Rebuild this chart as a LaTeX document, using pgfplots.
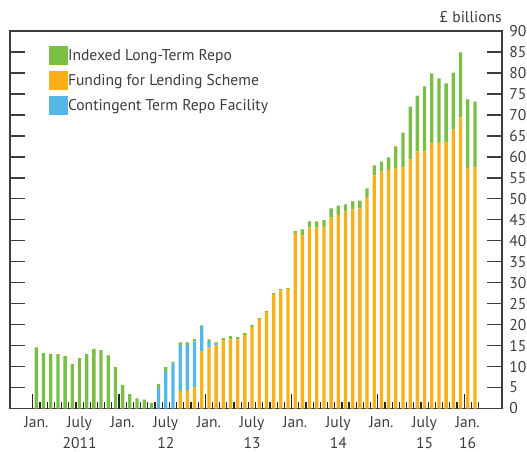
\documentclass[border=0pt]{standalone}
\usepackage{fontspec}
\setmainfont{PT Sans}
\usepackage{pgfplots}
\pgfplotsset{compat=1.18}
\usepackage{pgfplotstable}
\definecolor{iltr}{RGB}{122,190,68}
\definecolor{fls}{RGB}{252,175,23}
\definecolor{ctrf}{RGB}{85,183,232}
\definecolor{txt}{RGB}{60,60,60}

\pgfplotstableread{
m fls ctrf iltr
0 0 0 14.6
1 0 0 13.2
2 0 0 13.0
3 0 0 13.0
4 0 0 12.5
5 0 0 10.6
6 0 0 12.0
7 0 0 13.0
8 0 0 14.2
9 0 0 13.9
10 0 0 12.7
11 0 0 9.9
12 0 0 5.6
13 0 0 3.45
14 0 0 2.4
15 0 0 2.1
16 0 0 1.3
17 0 4.9 0.95
18 0 8.9 1.0
19 0 10.7 0.4
20 4.2 10.9 0.7
21 4.4 10.7 0.7
22 5.0 10.95 0.6
23 13.7 6.0 0.15
24 14.5 1.6 0.4
25 15.05 0.3 0.45
26 16.4 0 0.4
27 16.5 0 0.75
28 16.5 0 0.5
29 17.5 0 0.5
30 19.4 0 0.5
31 21.3 0 0.25
32 23.0 0 0.2
33 27.3 0 0.2
34 28.2 0 0.25
35 28.45 0 0.25
36 41.8 0 0.5
37 41.3 0 1.4
38 43.2 0 1.4
39 43.2 0 1.4
40 43.2 0 1.7
41 45.6 0 2.1
42 46.1 0 2.3
43 47.0 0 1.7
44 47.5 0 1.9
45 47.7 0 1.9
46 50.4 0 2.1
47 55.6 0 2.4
48 56.5 0 2.4
49 56.9 0 3.0
50 57.3 0 5.2
51 57.5 0 8.3
52 59.4 0 12.6
53 61.3 0 13.3
54 61.3 0 15.5
55 63.2 0 16.7
56 63.5 0 15.2
57 63.5 0 14.0
58 66.5 0 13.6
59 69.4 0 15.5
60 57.3 0 16.4
61 57.5 0 15.7
}\data

\begin{document}
\begin{tikzpicture}
\begin{axis}[
  at={(0,0)}, anchor=south west,
  scale only axis, width=369pt, height=283.1pt,
  xmin=-3.67, xmax=64.77, ymin=0, ymax=90,
  clip=false,
  ybar stacked, bar width=0.46,
  axis line style={draw=txt, line width=1pt},
  tick align=inside,
  xtick pos=left,
  ytick={0,5,...,90},
  yticklabel pos=right,
  yticklabel style={anchor=west, xshift=2.0pt, text=txt},
  major tick length=11.25pt,
  minor tick length=5.25pt,
  xtick={-0.5,11.5,23.5,35.5,47.5,59.5},
  xticklabels={},
  minor xtick={0.5,1.5,...,61.5},
  extra x ticks={0,6,12,18,24,30,36,42,48,54,60},
  extra x tick labels={Jan.,July\\2011,Jan.,July\\12,Jan.,July\\13,Jan.,July\\14,Jan.,July\\15,Jan.\\16},
  extra x tick style={major tick length=0pt},
  xticklabel style={align=center, text=txt, font=\fontsize{11.7}{15.8}\selectfont, yshift=-2.6pt},
  ytick style={draw=txt, line width=1pt},
  xtick style={draw=black!85, line width=0.9pt},
  /pgf/number format/assume math mode=true,
  yticklabel style={font=\fontsize{11.7}{14}\selectfont},
  legend image code/.code={\fill[#1] (0pt,-7.125pt) rectangle (14.25pt,7.125pt);},
  legend style={at={(axis description cs:0.0793,0.9603)}, anchor=north west,
    draw=none, fill=none, inner sep=0pt, outer sep=0pt, row sep=4.5pt,
    font=\fontsize{11.7}{13}\selectfont, text=txt,
    nodes={inner sep=0pt}},
  legend cell align=left,
  /tikz/every even column/.append style={column sep=4.5pt},
]
\addlegendimage{fill=iltr, draw=none}
\addlegendentry{Indexed Long-Term Repo}
\addlegendimage{fill=fls, draw=none}
\addlegendentry{Funding for Lending Scheme}
\addlegendimage{fill=ctrf, draw=none}
\addlegendentry{Contingent Term Repo Facility}
\addplot[fill=fls, draw=none, forget plot] table[x=m, y=fls] {\data};
\addplot[fill=ctrf, draw=none, forget plot] table[x=m, y=ctrf] {\data};
\addplot[fill=iltr, draw=none, forget plot] table[x=m, y=iltr] {\data};
\node[anchor=base east, text=txt, font=\fontsize{11.7}{13}\selectfont, inner sep=0pt] at (rel axis cs:1,1) [yshift=6.4pt] {£ billions};
\end{axis}
\pgfresetboundingbox
\useasboundingbox (-7.5pt,-32.6pt) rectangle (387.75pt,306.4pt);
\end{tikzpicture}
\end{document}
